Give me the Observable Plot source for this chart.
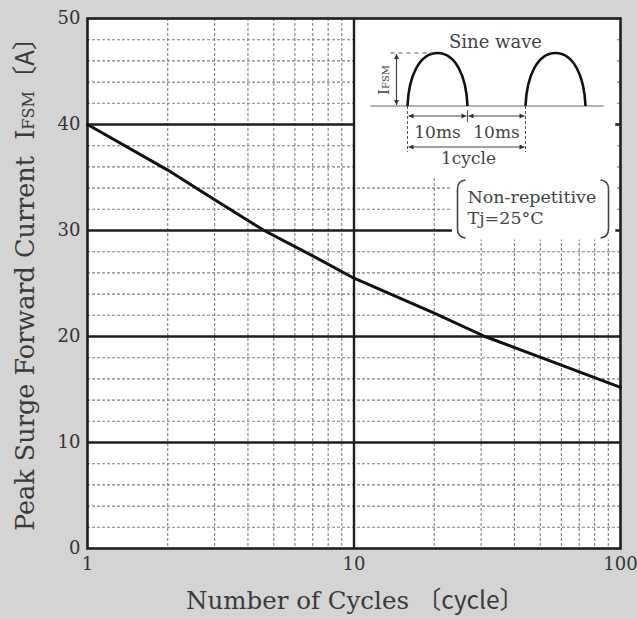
<!DOCTYPE html>
<html>
<head>
<meta charset="utf-8">
<script src="https://cdn.jsdelivr.net/npm/d3@7"></script>
<script src="https://cdn.jsdelivr.net/npm/@observablehq/plot@0.6"></script>
<style>
  html, body { margin: 0; padding: 0; background: #d4d4d4; }
</style>
</head>
<body>
<div id="chart"></div>
<script>
// ---- data ----
const cycles  = [1, 2, 3, 4.6, 7, 10, 20, 31, 60, 100];
const current = [40, 35.7, 32.9, 30, 27.6, 25.5, 22.2, 20, 17.3, 15.2];
const xTicks = [1, 10, 100];
const yTicks = [0, 10, 20, 30, 40, 50];
const yMajor = [10, 20, 30, 40];
const yMinor = [2, 4, 6, 8, 12, 14, 16, 18, 22, 24, 26, 28, 32, 34, 36, 38, 42, 44, 46, 48];
const xMinor = [2, 3, 4, 5, 6, 7, 8, 9, 20, 30, 40, 50, 60, 70, 80, 90];
const xMajor = [10];
const xLabel = "Number of Cycles";
const xUnit = "〔cycle〕";
const yLabel = "Peak Surge Forward Current";
const noteLines = ["Non-repetitive", "Tj=25°C"];
// white panels behind the inset annotations (data units)
const panels = [
  {x1: 10, x2: 96, y1: 35, y2: 50},
  {x1: 23.4, x2: 96, y1: 29.1, y2: 35}
];

const table = cycles.map((c, i) => ({cycles: c, current: current[i]}));
const serif = "'DejaVu Serif', 'Liberation Serif', serif";
const ink = "#1e1e1e";

const plot = Plot.plot({
  width: 637, height: 619,
  marginLeft: 87, marginRight: 17, marginTop: 18, marginBottom: 71,
  style: {background: "#d4d4d4", fontFamily: serif, fontSize: "18px", color: "#333", overflow: "visible"},
  x: {type: "log", domain: [1, 100]},
  y: {domain: [0, 50]},
  marks: [
    Plot.frame({fill: "white", stroke: null}),
    Plot.ruleY(yMinor, {stroke: "#808080", strokeWidth: 1.1, strokeDasharray: "3 2"}),
    Plot.ruleX(xMinor, {stroke: "#808080", strokeWidth: 1.1, strokeDasharray: "3 2"}),
    Plot.ruleY(yMajor, {stroke: ink, strokeWidth: 2.4}),
    Plot.rect(panels, {x1: "x1", x2: "x2", y1: "y1", y2: "y2", fill: "white"}),
    Plot.ruleX(xMajor, {stroke: ink, strokeWidth: 2.4}),
    Plot.frame({stroke: ink, strokeWidth: 2.6}),
    Plot.line(table, {x: "cycles", y: "current", stroke: "#111", strokeWidth: 3}),
    Plot.axisX({ticks: xTicks, tickFormat: d => String(d), tickSize: 0, tickPadding: 9, fontSize: 18, label: null}),
    Plot.axisY({ticks: yTicks, tickSize: 0, tickPadding: 7, fontSize: 18, label: null})
  ]
});
document.getElementById("chart").appendChild(plot);

// ---- annotations (axis titles and inset diagram) ----
const svg = d3.select(plot);
const sx = plot.scale("x"), sy = plot.scale("y");
const X0 = sx.apply(10), Y0 = sy.apply(50);
const cjk = "'Noto Sans CJK JP', " + serif;

const xl = svg.append("text")
  .attr("transform", `translate(186,609)`).attr("text-anchor", "start")
  .attr("font-family", serif).attr("font-size", 24.5).attr("fill", "#3a3a3a");
xl.append("tspan").text(xLabel + " ");
xl.append("tspan").attr("font-family", cjk).text(xUnit);

const yl = svg.append("text")
  .attr("transform", `translate(34,531) rotate(-90)`).attr("text-anchor", "start")
  .attr("font-family", serif).attr("font-size", 25.5).attr("fill", "#3a3a3a");
yl.append("tspan").text(yLabel + "\u00a0\u00a0I");
yl.append("tspan").attr("font-size", 16).text("FSM");
yl.append("tspan").attr("font-family", cjk).text("〔A〕");

const defs = svg.append("defs");
defs.append("marker").attr("id", "arr").attr("viewBox", "0 0 10 10")
  .attr("refX", 10).attr("refY", 5).attr("markerWidth", 7).attr("markerHeight", 5)
  .attr("markerUnits", "userSpaceOnUse").attr("orient", "auto-start-reverse")
  .append("path").attr("d", "M0,0 L10,5 L0,10 z").attr("fill", "#333");

const g = svg.append("g").attr("transform", `translate(${X0},${Y0})`);
const thin = {stroke: "#444", "stroke-width": 1.2, fill: "none"};
const line = (x1, y1, x2, y2, st = thin) => {
  const l = g.append("line").attr("x1", x1).attr("y1", y1).attr("x2", x2).attr("y2", y2);
  for (const k in st) l.attr(k, st[k]);
  return l;
};
const label = (x, y, t, size, anchor = "middle") =>
  g.append("text").attr("x", x).attr("y", y).attr("text-anchor", anchor)
    .attr("font-family", serif).attr("font-size", size).attr("fill", "#444").text(t);

// baseline
line(17, 88, 250, 88, {stroke: "#666", "stroke-width": 1.2});
// humps
for (const [a, b] of [[54, 114], [172, 232]]) {
  const m = (a + b) / 2, w = b - a;
  g.append("path").attr("d", `M${a},88 C${a + w * 0.02},58 ${m - w * 0.3},35 ${m},35 C${m + w * 0.3},35 ${b - w * 0.02},58 ${b},88`)
    .attr("fill", "none").attr("stroke", "#111").attr("stroke-width", 2.6);
}
label(142, 30, "Sine wave", 18);
// IFSM
line(37, 35, 80, 35, {stroke: "#555", "stroke-width": 1, "stroke-dasharray": "4 4"});
line(43, 36, 43, 87).attr("marker-start", "url(#arr)").attr("marker-end", "url(#arr)");
const it = g.append("text").attr("transform", `translate(35,62) rotate(-90)`)
  .attr("text-anchor", "middle").attr("font-family", serif).attr("fill", "#444");
it.append("tspan").attr("font-size", 15).text("I");
it.append("tspan").attr("font-size", 10).text("FSM");
// dimension lines
line(54, 88, 54, 134, {stroke: "#555", "stroke-width": 1, "stroke-dasharray": "3 2"});
line(172, 88, 172, 134, {stroke: "#555", "stroke-width": 1, "stroke-dasharray": "3 2"});
line(114, 92, 114, 104, {stroke: "#555", "stroke-width": 1});
line(55, 98, 113, 98).attr("marker-start", "url(#arr)").attr("marker-end", "url(#arr)");
line(115, 98, 171, 98).attr("marker-start", "url(#arr)").attr("marker-end", "url(#arr)");
line(55, 129, 171, 129).attr("marker-start", "url(#arr)").attr("marker-end", "url(#arr)");
label(84, 120, "10ms", 17);
label(143, 120, "10ms", 17);
label(115, 146, "1cycle", 17);
// bracketed note
g.append("path").attr("d", "M112,162 Q104,163 104,171 L104,211 Q104,219 112,220")
  .attr("fill", "none").attr("stroke", "#444").attr("stroke-width", 1.6);
g.append("path").attr("d", "M247,162 Q255,163 255,171 L255,211 Q255,219 247,220")
  .attr("fill", "none").attr("stroke", "#444").attr("stroke-width", 1.6);
noteLines.forEach((t, i) => label(114, 185 + i * 21, t, 17.5, "start"));
</script>
</body>
</html>
